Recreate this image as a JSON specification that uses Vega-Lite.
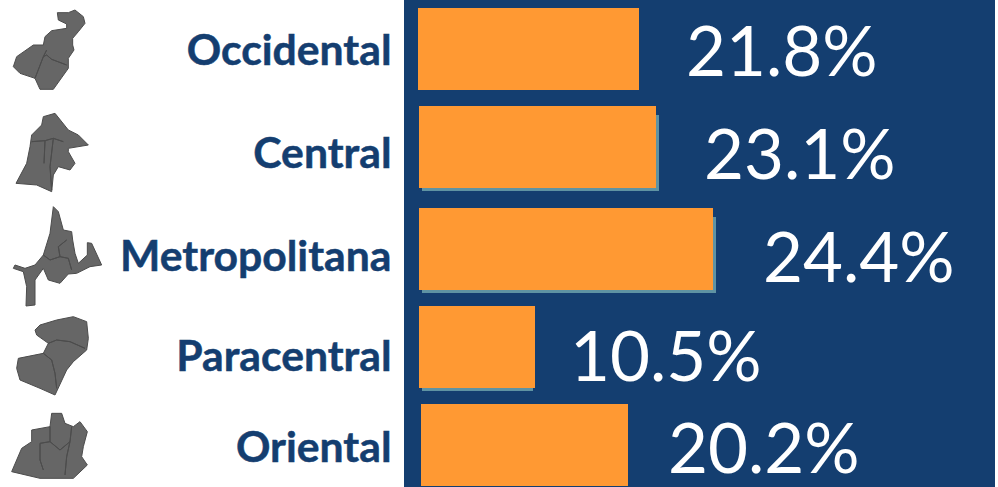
{"$schema":"https://vega.github.io/schema/vega-lite/v6.json","width":998,"height":487,"autosize":{"type":"fit","contains":"padding"},"padding":0,"background":"#ffffff","config":{"view":{"stroke":null}},
"data":{"values":[
{"region":"Occidental","rank":1,"pct":21.8,"label":"21.8%","start":-1,"end":220,"shadowEnd":220},
{"region":"Central","rank":2,"pct":23.1,"label":"23.1%","start":0,"end":237,"shadowEnd":237},
{"region":"Metropolitana","rank":3,"pct":24.4,"label":"24.4%","start":0,"end":294,"shadowEnd":294},
{"region":"Paracentral","rank":4,"pct":10.5,"label":"10.5%","start":0,"end":116,"shadowEnd":111},
{"region":"Oriental","rank":5,"pct":20.2,"label":"20.2%","start":2,"end":209,"shadowEnd":209}
]},
"resolve":{"scale":{"x":"independent","y":"independent","shape":"independent"}},
"layer":[
{"mark":{"type":"rect","fill":"#143e70"},"encoding":{"x":{"datum":404,"type":"quantitative","scale":{"domain":[0,998],"range":[0,998]},"axis":null},"x2":{"datum":995}}},
{"transform":[{"filter":"datum.rank>=2 && datum.rank<=4"}],"mark":{"type":"bar","orient":"horizontal","height":76,"fill":"#5f93a3"},"encoding":{"x":{"field":"start","type":"quantitative","scale":{"domain":[-419,579],"range":[3,1001],"padding":0},"axis":null},"x2":{"field":"shadowEnd"},"y":{"field":"rank","type":"quantitative","axis":null,"scale":{"domain":[1,2,3,4,5],"range":[55,153,255,353,451],"padding":0}}}},
{"mark":{"type":"bar","orient":"horizontal","height":82,"fill":"#ff9933"},"encoding":{"x":{"field":"start","type":"quantitative","scale":{"domain":[-419,579],"range":[0,998],"padding":0},"axis":null},"x2":{"field":"end"},"y":{"field":"rank","type":"quantitative","axis":null,"scale":{"domain":[1,2,3,4,5],"range":[49,147,249,347,445],"padding":0}}}},
{"mark":{"type":"text","align":"left","baseline":"middle","font":"Lato","fontSize":69,"fill":"#ffffff"},"encoding":{"text":{"field":"label"},"x":{"field":"rank","type":"quantitative","axis":null,"scale":{"domain":[1,2,3,4,5],"range":[686,704,763,570,668]}},"y":{"field":"rank","type":"quantitative","axis":null,"scale":{"domain":[1,2,3,4,5],"range":[55,158,261,360,452]}}}},
{"mark":{"type":"text","align":"right","baseline":"middle","font":"Lato","fontWeight":"bold","fontSize":42.7,"fill":"#143e70","stroke":"#143e70","strokeWidth":0.5},"encoding":{"text":{"field":"region"},"x":{"datum":391.5,"type":"quantitative","scale":{"domain":[0,998],"range":[0,998]},"axis":null},"y":{"field":"rank","type":"quantitative","axis":null,"scale":{"domain":[1,2,3,4,5],"range":[52,155,258,358,449]}}}},
{"mark":{"type":"point","filled":true,"fill":"#666666","stroke":"#4c4c4c","strokeWidth":1,"strokeJoin":"round","opacity":1,"size":0.4444},"encoding":{"x":{"datum":50,"type":"quantitative","scale":{"domain":[0,998],"range":[0,998]},"axis":null},"y":{"field":"rank","type":"quantitative","axis":null,"scale":{"domain":[1,5],"range":[50,450]}},"shape":{"field":"region","type":"nominal","legend":null,"scale":{"domain":["Occidental","Central","Metropolitana","Paracentral","Oriental"],"range":[
"M22,-112L55,-112L75,-120L100,-100L105,-80L85,-55L68,-35L68,-15L72,0L55,25L55,55L30,90L10,118L-30,118L-45,85L-90,70L-110,50L-100,20L-50,-15L-20,-15L-15,-40L5,-58L50,-65L50,-78L25,-90ZM-10,0L-20,20L-45,85L-20,20L-10,0ZM-20,20L-10,15L5,28L50,45L5,28L-10,15Z",
"M-20,-100L15,-110L55,-60L85,-45L115,-15L55,-5L55,5L75,40L60,60L25,50L10,75L5,125L-40,105L-102,100L-70,40L-60,-10L-55,-45L-25,-75ZM-55,-25L-15,-28L10,-35L40,-25L10,-35L-15,-28ZM-15,-28L-18,40L-15,-28ZM10,-35L0,50L5,120L0,50Z",
"M10,-130L25,-115L40,-60L65,-55L68,-30L75,10L85,40L112,15L112,-22L125,-20L155,45L120,50L80,70L55,72L30,100L-5,90L-20,55L-45,90L-45,165L-72,168L-70,110L-80,65L-110,55L-105,45L-75,55L-45,45L-20,15L0,-50ZM-20,15L0,30L30,20L55,25L65,60L55,25L30,20L0,30ZM30,20L25,-10L50,-30L25,-10Z",
"M-45,-60L-30,-75L20,-90L70,-100L110,-85L115,-35L110,0L70,35L50,60L15,135L-30,115L-90,90L-100,55L-95,25L-20,10L-5,-20L-40,-45ZM-5,-20L20,-30L60,-25L105,-5L60,-25L20,-30ZM-20,10L5,30L15,70L20,115L15,70L5,30Z",
"M5,-110L35,-110L45,-80L70,-70L90,-85L112,-55L100,-10L95,20L112,45L70,85L-30,85L-115,65L-85,-5L-55,-25L-55,-60L0,-70ZM0,-70L0,-25L30,0L60,-25L65,-70L60,-25L30,0L0,-25ZM0,-25L-30,-20L-30,30L-20,60L-30,30L-30,-20ZM60,-25L50,20L45,75L50,20Z"
]}}}}
]}
